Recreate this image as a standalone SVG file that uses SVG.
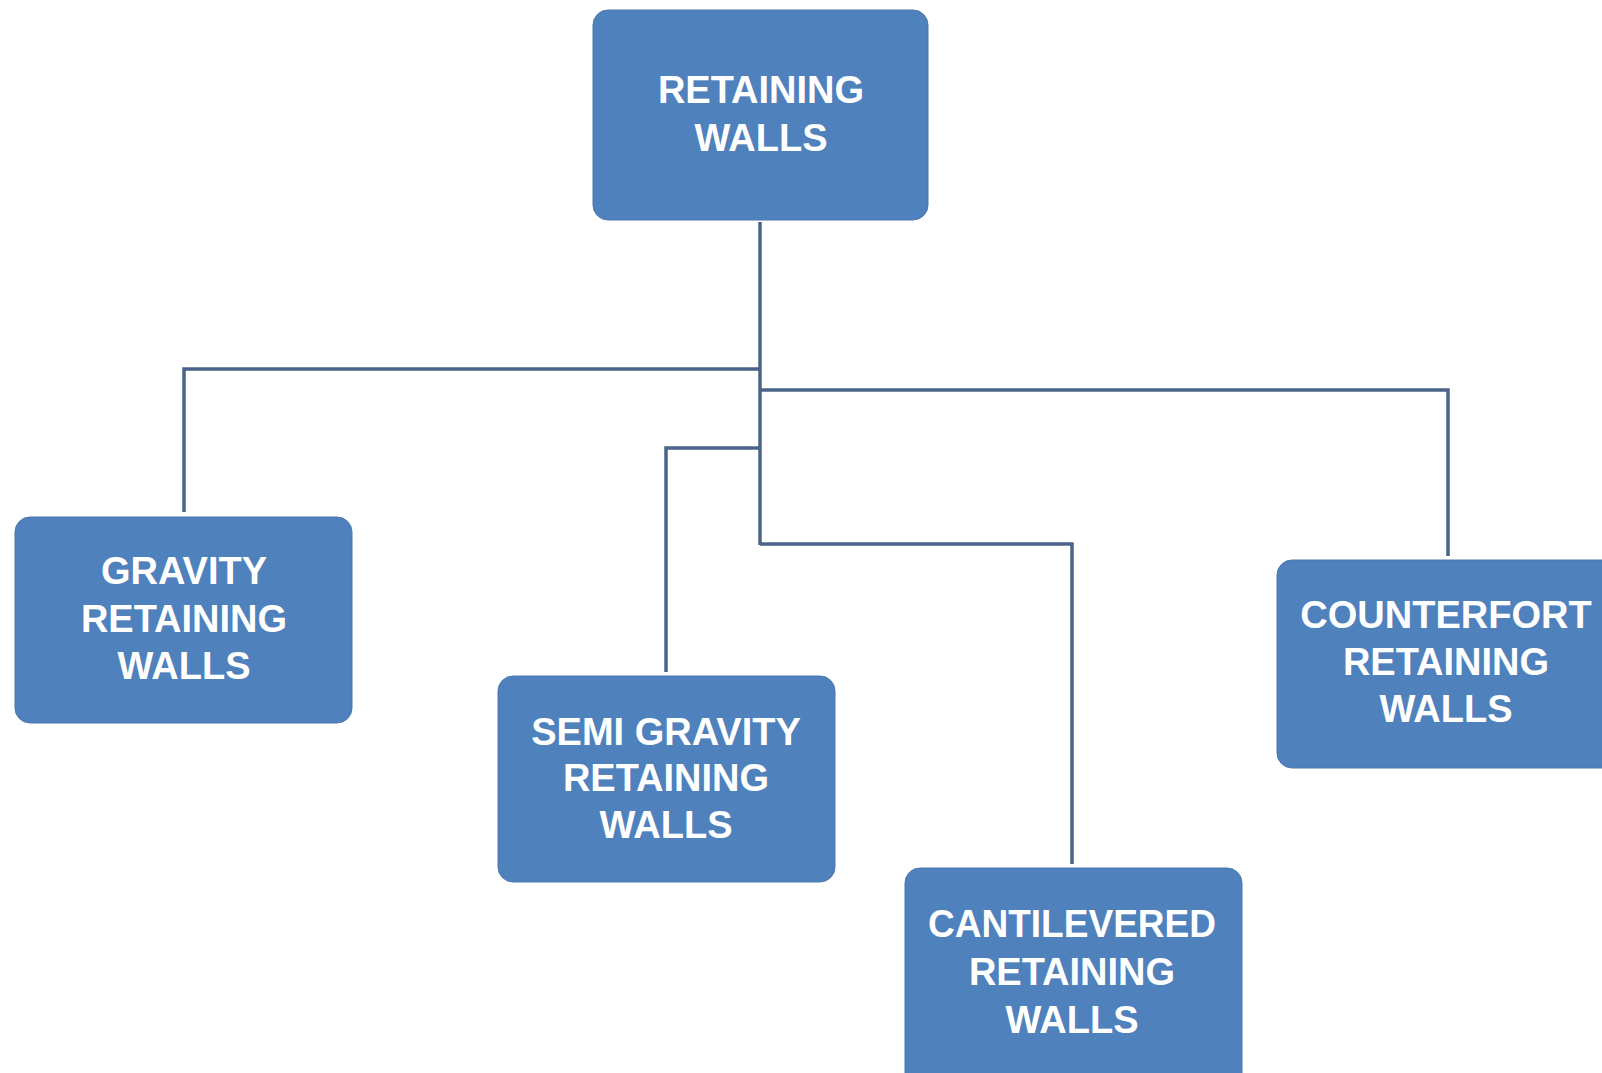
<svg xmlns="http://www.w3.org/2000/svg" width="1602" height="1073" viewBox="0 0 1602 1073">
<style>
.box{fill:#4f81bd;stroke:#4a78b0;stroke-width:1}
.t{font-family:"Liberation Sans",Arial,sans-serif;font-weight:bold;font-size:38px;fill:#ffffff;text-anchor:middle}
.c{fill:none;stroke:#4a6388;stroke-width:3.5}
</style>
<rect width="1602" height="1073" fill="#ffffff"/>
<g id="connectors">
<path class="c" d="M760 222 V545"/>
<path class="c" d="M760 369 H184 V512"/>
<path class="c" d="M760 390 H1448 V556"/>
<path class="c" d="M760 448 H666 V672"/>
<path class="c" d="M760 544 H1072 V864"/>
</g>
<g id="retaining-walls">
<rect class="box" x="593" y="10" width="335" height="210" rx="15"/>
<text class="t" x="761" y="103">RETAINING</text>
<text class="t" x="761" y="151">WALLS</text>
</g>
<g id="gravity">
<rect class="box" x="15" y="517" width="337" height="206" rx="15"/>
<text class="t" x="184" y="584">GRAVITY</text>
<text class="t" x="184" y="632">RETAINING</text>
<text class="t" x="184" y="679">WALLS</text>
</g>
<g id="semi-gravity">
<rect class="box" x="498" y="676" width="337" height="206" rx="15"/>
<text class="t" x="666" y="745">SEMI GRAVITY</text>
<text class="t" x="666" y="791">RETAINING</text>
<text class="t" x="666" y="838">WALLS</text>
</g>
<g id="cantilevered">
<rect class="box" x="905" y="868" width="337" height="220" rx="15"/>
<text class="t" x="1072" y="937" textLength="288" lengthAdjust="spacingAndGlyphs">CANTILEVERED</text>
<text class="t" x="1072" y="985">RETAINING</text>
<text class="t" x="1072" y="1033">WALLS</text>
</g>
<g id="counterfort">
<rect class="box" x="1277" y="560" width="345" height="208" rx="15"/>
<text class="t" x="1446" y="628">COUNTERFORT</text>
<text class="t" x="1446" y="675">RETAINING</text>
<text class="t" x="1446" y="722">WALLS</text>
</g>
</svg>
